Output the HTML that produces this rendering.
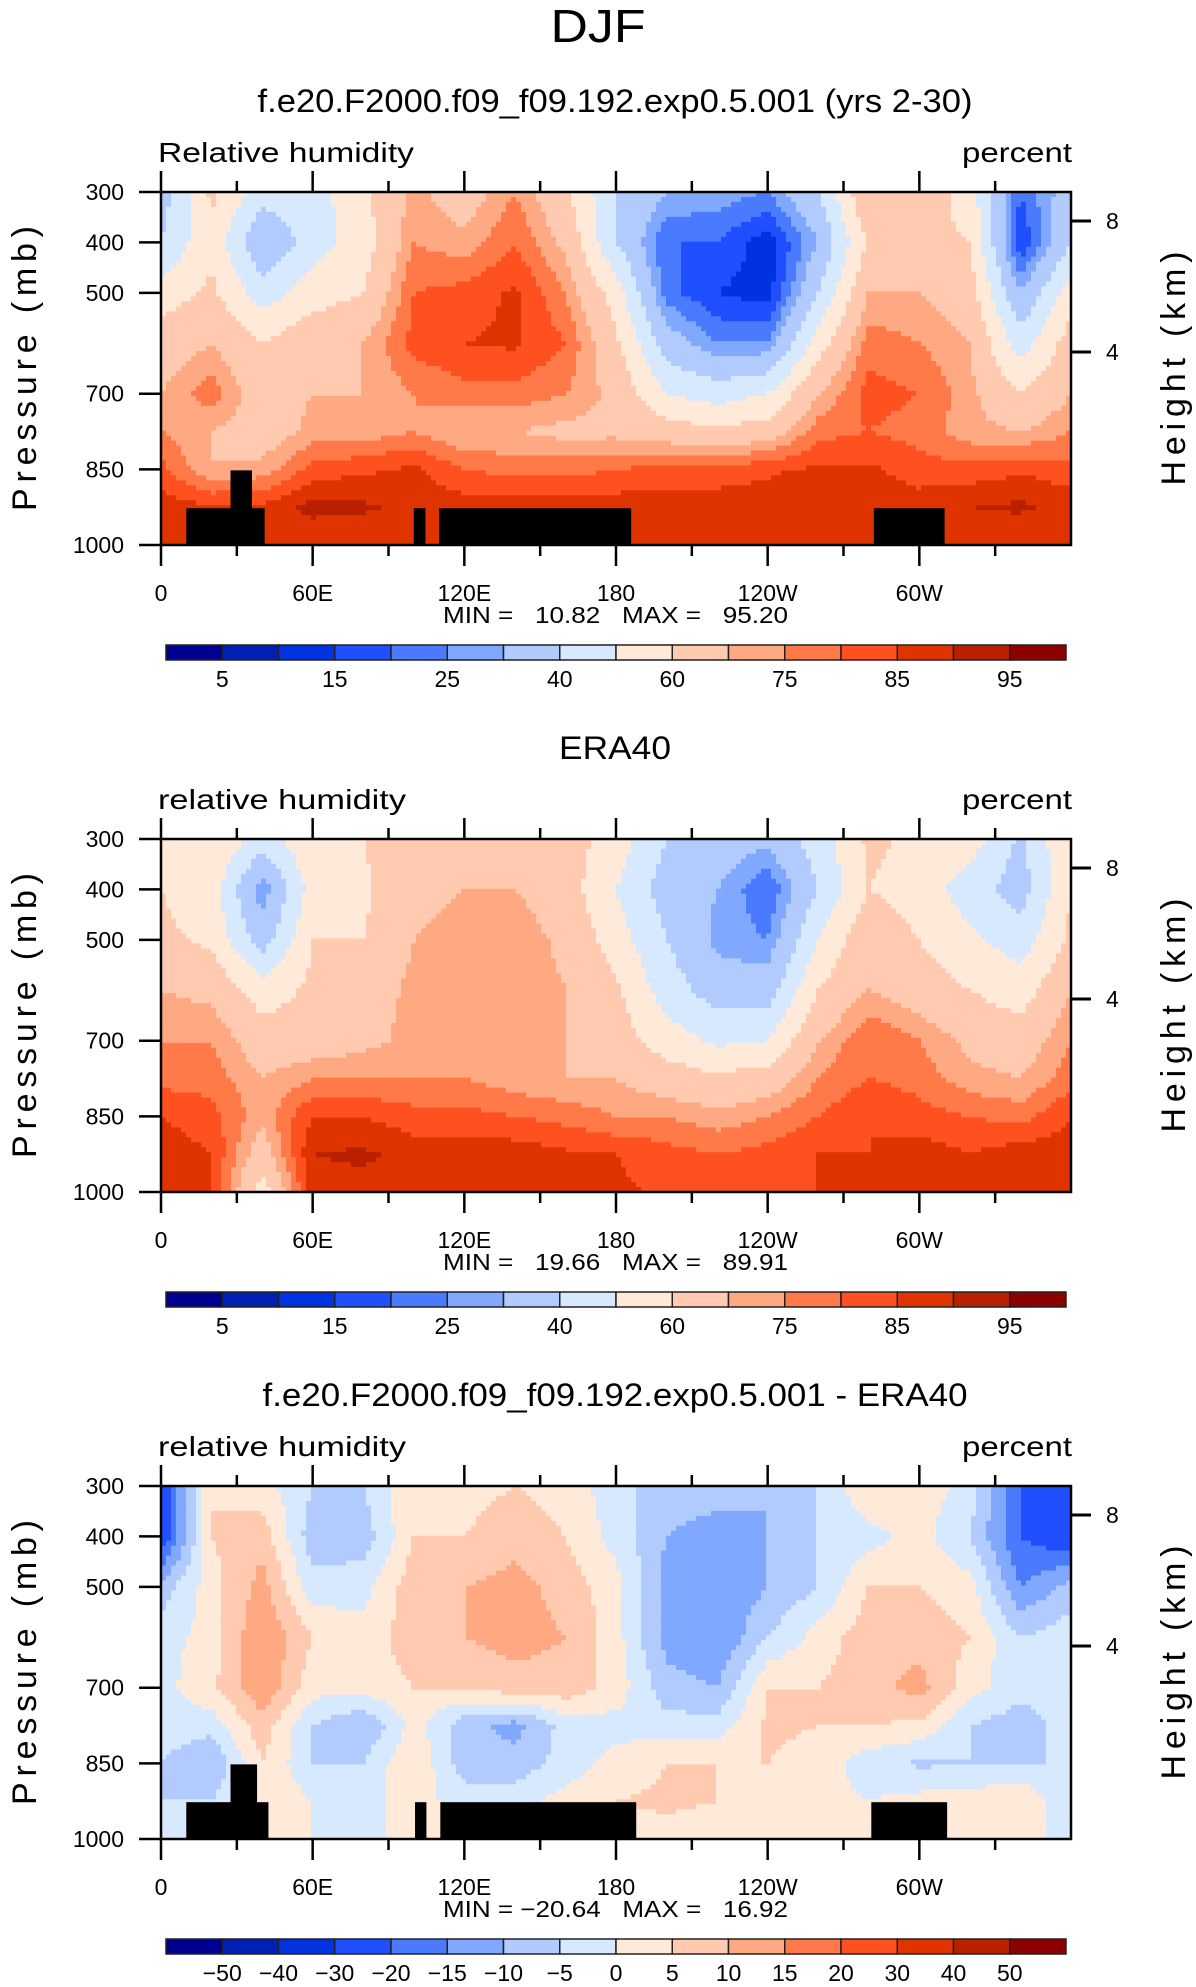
<!DOCTYPE html>
<html><head><meta charset="utf-8">
<style>
html,body{margin:0;padding:0;background:#fff;}
body{width:1196px;height:1987px;position:relative;overflow:hidden;font-family:"Liberation Sans",sans-serif;}
svg{position:absolute;left:0;top:0;}
.pre{white-space:pre;}
</style></head>
<body>
<svg id="fig" width="1196" height="1987" viewBox="0 0 1196 1987">
<text x="598" y="42" font-size="46" text-anchor="middle" textLength="95" lengthAdjust="spacingAndGlyphs" font-family="Liberation Sans, sans-serif">DJF</text>
</svg>
<script>
// ---- data ----
const lons = [0,20,40,60,80,100,120,140,160,180,200,220,240,260,280,300,320,340,360];
const pLevels = [300,400,500,600,700,775,850,925,1000];
const rhLevels = [5,10,15,20,25,30,40,50,60,70,75,80,85,90,95];
const diffLevels = [-50,-40,-30,-20,-15,-10,-5,0,5,10,15,20,30,40,50];
const rhLabels = ["5","15","25","40","60","75","85","95"];
const diffLabels = ["-50","-40","-30","-20","-15","-10","-5","0","5","10","15","20","30","40","50"];
const xTickLabels = ["0","60E","120E","180","120W","60W"];
const xTickLons = [0,60,120,180,240,300];
const yTickLabels = ["300","400","500","700","850","1000"];
const yTickP = [300,400,500,700,850,1000];
const kmLabels = ["8","4"];
const kmOffsets = [29,160];
// model RH, rows = pLevels, cols = lons
const modelRH = [
 [35,62,45,45,58,72,65,75,62,40,30,28,25,40,70,68,55,20,35],
 [40,58,30,45,55,75,72,80,68,40,20,20,12,30,62,62,60,15,40],
 [55,62,45,55,60,80,82,86,75,55,22,15,12,40,70,70,65,30,55],
 [65,70,60,68,70,82,85,86,80,62,35,25,25,55,78,75,70,45,65],
 [70,78,65,70,70,75,78,78,75,68,50,45,50,70,82,80,72,60,70],
 [75,70,65,72,72,75,70,70,68,68,65,62,65,78,80,78,72,70,75],
 [82,70,72,82,84,86,80,78,78,80,82,82,84,86,86,82,82,84,82],
 [88,86,86,92,91,88,88,88,88,88,88,88,88,90,90,88,90,91,88],
 [85,85,85,85,85,85,85,85,85,85,85,85,85,85,85,85,85,85,85]
];
const eraRH = [
 [60,60,45,58,60,68,68,68,65,55,40,35,32,45,62,58,55,38,60],
 [60,55,25,55,58,68,70,70,65,50,35,30,20,40,60,55,45,35,60],
 [62,58,35,60,60,70,72,74,68,55,40,28,25,50,68,60,52,45,62],
 [70,68,55,62,65,72,75,75,70,62,45,35,35,60,70,65,60,55,70],
 [75,75,65,65,68,72,72,72,70,65,55,48,50,70,80,75,68,65,75],
 [78,78,70,75,75,75,75,72,70,70,65,62,65,75,80,78,72,70,78],
 [85,82,72,85,85,82,82,80,78,75,75,72,75,80,85,82,80,78,85],
 [88,85,65,90,91,88,88,88,86,85,82,80,82,85,85,88,85,88,88],
 [86,85,55,88,88,88,88,87,86,86,84,82,84,85,86,86,86,86,86]
];
const diffRH = [
 [-25,5,2,-5,-5,5,3,5,3,-3,-8,-8,-10,-5,5,3,-2,-20,-25],
 [-25,5,8,-8,-8,5,5,8,5,-2,-10,-12,-10,-5,-2,2,-5,-20,-25],
 [-8,3,12,-3,-2,8,10,12,8,2,-12,-15,-10,-5,5,5,2,-15,-8],
 [-2,2,15,5,2,8,10,12,10,2,-12,-15,-5,2,8,8,5,-5,-2],
 [-2,4,14,2,2,5,5,8,8,3,-8,-10,5,5,8,12,2,-3,-2],
 [-2,-3,8,-5,-10,2,-8,-12,-3,-2,-3,-3,6,5,5,4,-5,-8,-2],
 [-5,-10,5,-5,-5,5,-8,-8,-3,2,5,5,5,3,-3,-6,-5,-5,-5],
 [-5,-5,5,0,-2,2,-2,-2,2,5,6,5,3,2,0,2,2,5,-5],
 [0,0,2,0,0,0,0,0,0,3,3,2,2,0,0,0,2,0,0]
];
// topography masks: [lonStart, lonEnd, topPressure]
const maskModel = [[10,41,927],[27.5,36,852],[100,104.6,927],[110,186,927],[282,310,927]];
const maskDiff = [[10,42.5,927],[27.5,38,852],[100.5,105,927],[110.5,188,927],[281,311,927]];
const colors = ["#000090","#0020b4","#0032e0","#1f4fff","#4a7bff","#80a8ff","#b2cbff","#d7e9ff","#ffe9d8","#ffcab0","#ffa982","#ff7a48","#ff5020","#e03400","#b82000","#8c0000"];

// ---- rendering ----
const NS = "http://www.w3.org/2000/svg";
const svg = document.getElementById("fig");
const PL = 161, PW = 910, PH = 353;
function mk(tag, attrs, parent){const e=document.createElementNS(NS,tag);for(const k in attrs)e.setAttribute(k,attrs[k]);(parent||svg).appendChild(e);return e;}
function xOf(lon){return PL + lon/360*PW;}
function yOf(p, top){return top + (p-300)/700*PH;}
function colorIdx(v, levels){let i=0;while(i<levels.length && v>=levels[i])i++;return i;}
function interp(grid, lon, p){
  let i=Math.min(Math.floor(lon/20),17); let fx=(lon-lons[i])/20;
  let j=0; while(j<pLevels.length-2 && p>pLevels[j+1]) j++;
  let fy=(p-pLevels[j])/(pLevels[j+1]-pLevels[j]);
  const a=grid[j][i],b=grid[j][i+1],c=grid[j+1][i],d=grid[j+1][i+1];
  return a*(1-fx)*(1-fy)+b*fx*(1-fy)+c*(1-fx)*fy+d*fx*fy;
}
function drawPanel(k, opts){
  const top = 192 + 647*k;
  const g = mk("g",{});
  
  
  const t = mk("text",{x:615,y:top-80,"font-size":32,"text-anchor":"middle",textLength:opts.titleLen,lengthAdjust:"spacingAndGlyphs"},g);
  t.textContent = opts.title;
  
  
  const l1 = mk("text",{x:158,y:top-30,"font-size":28,textLength:opts.leftLen,lengthAdjust:"spacingAndGlyphs"},g); l1.textContent=opts.left;
  
  
  const l2 = mk("text",{x:962,y:top-30,"font-size":28,textLength:110,lengthAdjust:"spacingAndGlyphs"},g); l2.textContent="percent";
  
  
  const field = mk("g",{},g);
  
  
  const NX=182, NY=71;
  const dx=PW/NX, dy=PH/NY;
  for(let r=0;r<NY;r++){
    const p = 300 + (r+0.5)/NY*700;
    let start=0, cur=null;
    for(let c=0;c<=NX;c++){
      let ci=null;
      if(c<NX){const lon=(c+0.5)/NX*360; ci=colorIdx(interp(opts.grid,lon,p),opts.levels);}
      if(c===NX || ci!==cur){
        if(cur!==null){
          const rc = mk("rect",{x:(PL+start*dx).toFixed(2),y:(top+r*dy).toFixed(2),width:((c-start)*dx+0.6).toFixed(2),height:(dy+0.6).toFixed(2),fill:colors[cur]},field);
          
          
        }
        start=c; cur=ci;
      }
    }
  }
  (opts.mask||[]).forEach(m=>{
    const y0=yOf(m[2],top);
    const rc=mk("rect",{x:xOf(m[0]),y:y0,width:xOf(m[1])-xOf(m[0]),height:top+PH-y0,fill:"#000"},g);
    
    
  });
  const fr=mk("rect",{x:PL,y:top,width:PW,height:PH,fill:"none",stroke:"#000","stroke-width":2.5},g);
  
  
  for(let lon=0;lon<=330;lon+=30){
    const major = lon%60===0, len = major?21:11, x=xOf(lon);
    mk("line",{x1:x,y1:top+PH,x2:x,y2:top+PH+len,stroke:"#000","stroke-width":2.5},g);
    mk("line",{x1:x,y1:top,x2:x,y2:top-len,stroke:"#000","stroke-width":2.5},g);
  }
  xTickLabels.forEach((s,i)=>{
    const tx=mk("text",{x:xOf(xTickLons[i]),y:top+PH+56,"font-size":23,"text-anchor":"middle"},g);
    tx.textContent=s;
    
    
  });
  yTickLabels.forEach((s,i)=>{
    const y=yOf(yTickP[i],top);
    mk("line",{x1:PL-22,y1:y,x2:PL,y2:y,stroke:"#000","stroke-width":2.5},g);
    const ty=mk("text",{x:124,y:y+8,"font-size":23,"text-anchor":"end"},g);
    ty.textContent=s;
    
    
  });
  kmLabels.forEach((s,i)=>{
    const y=top+kmOffsets[i];
    mk("line",{x1:PL+PW,y1:y,x2:PL+PW+20,y2:y,stroke:"#000","stroke-width":3},g);
    const tk=mk("text",{x:1106,y:y+8,"font-size":23},g);
    tk.textContent=s;
    
    
  });
  const yt=mk("text",{x:0,y:0,"font-size":34,"text-anchor":"middle",textLength:285,lengthAdjust:"spacing",transform:`translate(36,${top+PH/2}) rotate(-90)`},g);
  yt.textContent="Pressure (mb)";
  
  
  const yt2=mk("text",{x:0,y:0,"font-size":34,"text-anchor":"middle",textLength:234,lengthAdjust:"spacing",transform:`translate(1185,${top+PH/2}) rotate(-90)`},g);
  yt2.textContent="Height (km)";
  
  
  const mm=mk("text",{x:443,y:top+PH+78,"font-size":23,textLength:345,lengthAdjust:"spacingAndGlyphs","class":"pre"},g);
  mm.textContent=opts.minmax;
  
  
  const cb = mk("g",{},g);
  
  
  const cbTop=top+453, bw=900/16;
  colors.forEach((c,i)=>{
    const r=mk("rect",{x:166+i*bw,y:cbTop,width:bw,height:15,fill:c,stroke:"#222","stroke-width":1.5},cb);
    
    
  });
  opts.cbLabels.forEach((s,i)=>{
    const idx = opts.cbLabels.length===8 ? 1+2*i : 1+i;
    const tl=mk("text",{x:166+idx*bw,y:cbTop+42,"font-size":23,"text-anchor":"middle"},cb);
    tl.textContent=s.replace("-","\u2212");
    
    
  });
}
drawPanel(0,{name:"model",title:"f.e20.F2000.f09_f09.192.exp0.5.001 (yrs 2-30)",titleLen:715,left:"Relative humidity",leftLen:256,grid:modelRH,levels:rhLevels,mask:maskModel,minmax:"MIN =   10.82   MAX =   95.20",cbLabels:rhLabels});
drawPanel(1,{name:"era40",title:"ERA40",titleLen:112,left:"relative humidity",leftLen:248,grid:eraRH,levels:rhLevels,mask:[],minmax:"MIN =   19.66   MAX =   89.91",cbLabels:rhLabels});
drawPanel(2,{name:"difference",title:"f.e20.F2000.f09_f09.192.exp0.5.001 - ERA40",titleLen:705,left:"relative humidity",leftLen:248,grid:diffRH,levels:diffLevels,mask:maskDiff,minmax:"MIN = \u221220.64   MAX =   16.92",cbLabels:diffLabels});
</script>
</body></html>
